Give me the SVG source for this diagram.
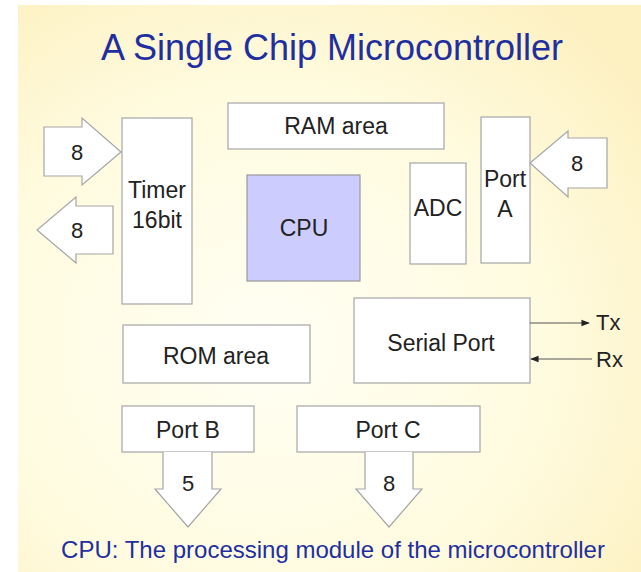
<svg xmlns="http://www.w3.org/2000/svg" width="641" height="572" viewBox="0 0 641 572">
<defs>
<radialGradient id="bg" cx="0.4" cy="0.6" r="0.75">
<stop offset="0" stop-color="#FFFFF4"/>
<stop offset="0.6" stop-color="#FFFBDF"/>
<stop offset="1" stop-color="#FDF1C2"/>
</radialGradient>
<marker id="ah" viewBox="0 0 10 10" refX="9" refY="5" markerWidth="7" markerHeight="7" orient="auto">
<path d="M0,1 L10,5 L0,9 z" fill="#222"/>
</marker>
<style>
.box{fill:#fff;stroke:#a6a6a6;stroke-width:1.2}
.cpu{fill:#CCCCFF;stroke:#999;stroke-width:1.2}
.arr{fill:#fff;stroke:#a6a6a6;stroke-width:1.2;stroke-linejoin:miter}
.t{font-family:"Liberation Sans",Arial,sans-serif;font-size:23px;fill:#222;text-anchor:middle}
.n{font-family:"Liberation Sans",Arial,sans-serif;font-size:22px;fill:#222;text-anchor:middle}
.s{font-family:"Liberation Sans",Arial,sans-serif;font-size:22px;fill:#222}
.blue{font-family:"Liberation Sans",Arial,sans-serif;fill:#1F2F9F;text-anchor:middle}
.line{stroke:#555;stroke-width:1.2;fill:none}
</style>
</defs>
<rect x="18" y="5" width="623" height="567" fill="url(#bg)"/>
<text class="blue" x="332" y="60" font-size="36">A Single Chip Microcontroller</text>

<g id="timer"><rect class="box" x="122" y="118" width="70" height="186"/><text class="t" x="157" y="198">Timer</text><text class="t" x="157" y="228">16bit</text></g>
<g id="in-timer"><path class="arr" d="M44,127 H82 V118 L121,152 L82,185 V176 H44 Z"/><text class="n" x="77" y="160">8</text></g>
<g id="out-timer"><path class="arr" d="M113,206 H76 V197 L37,230 L76,263 V254 H113 Z"/><text class="n" x="77" y="238">8</text></g>
<g id="ram"><rect class="box" x="228" y="103" width="216" height="46"/><text class="t" x="336" y="134">RAM area</text></g>
<g id="cpu"><rect class="cpu" x="247" y="175" width="113" height="106"/><text class="t" x="304" y="236">CPU</text></g>
<g id="adc"><rect class="box" x="410" y="163" width="56" height="101"/><text class="t" x="438" y="216">ADC</text></g>
<g id="porta"><rect class="box" x="481" y="117" width="49" height="146"/><text class="t" x="505" y="187">Port</text><text class="t" x="505" y="217">A</text></g>
<g id="in-porta"><path class="arr" d="M607,138 H568 V131 L530,163 L568,197 V188 H607 Z"/><text class="n" x="577" y="171">8</text></g>
<g id="serial"><rect class="box" x="354" y="298" width="176" height="85"/><text class="t" x="441" y="351">Serial Port</text></g>
<g id="rom"><rect class="box" x="123" y="325" width="187" height="58"/><text class="t" x="216" y="364">ROM area</text></g>
<g id="portb"><rect class="box" x="122" y="406" width="132" height="46"/><text class="t" x="188" y="438">Port B</text></g>
<g id="portc"><rect class="box" x="297" y="406" width="183" height="46"/><text class="t" x="388" y="438">Port C</text></g>
<g id="out-portb"><path class="arr" d="M163,452 V489 H155 L188,527 L221,489 H212 V452"/><text class="n" x="188" y="491">5</text></g>
<g id="out-portc"><path class="arr" d="M365,452 V489 H356 L389,527 L422,489 H413 V452"/><text class="n" x="389" y="491">8</text></g>
<g id="connectors">
<line class="line" x1="530" y1="323" x2="589" y2="323" marker-end="url(#ah)"/>
<line class="line" x1="592" y1="359" x2="531" y2="359" marker-end="url(#ah)"/>
</g>
<text class="s" x="596" y="330">Tx</text>
<text class="s" x="596" y="367">Rx</text>
<text class="blue" x="333" y="558" font-size="24">CPU: The processing module of the microcontroller</text>
</svg>
